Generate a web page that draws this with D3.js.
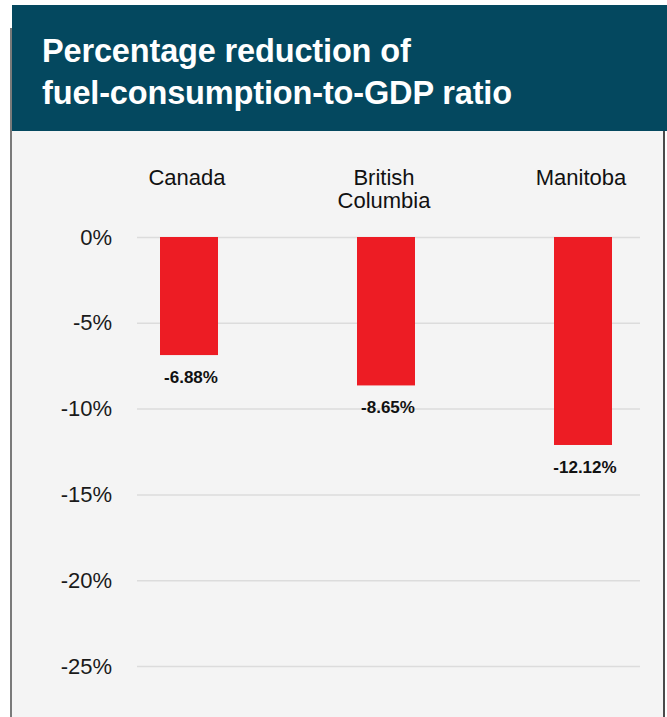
<!DOCTYPE html>
<html>
<head>
<meta charset="utf-8">
<script src="https://cdn.jsdelivr.net/npm/d3@7"></script>
<style>
  body { margin: 0; background: #ffffff; }
  svg { display: block; }
</style>
</head>
<body>
<div id="vis"></div>
<script>
var width = 667
var height = 717

// chart data
var regions = ["Canada", "British Columbia", "Manitoba"]
var regionLines = [["Canada"], ["British", "Columbia"], ["Manitoba"]]
var reductions = [-6.88, -8.65, -12.12]
var valueLabels = ["-6.88%", "-8.65%", "-12.12%"]
var yTicks = [0, -5, -10, -15, -20, -25]

var titleLines = ["Percentage reduction of", "fuel-consumption-to-GDP ratio"]

var svg = d3.select('#vis').append('svg')
  .attr('width', width)
  .attr('height', height)

// panel + header
svg.append('rect')
  .attr('x', 12).attr('y', 130)
  .attr('width', 651).attr('height', height - 130)
  .attr('fill', '#f4f4f4')
svg.append('rect')
  .attr('x', 10).attr('y', 28)
  .attr('width', 2).attr('height', height - 28)
  .attr('fill', '#7a7a7a')
svg.append('rect')
  .attr('x', 663).attr('y', 130)
  .attr('width', 2).attr('height', height - 130)
  .attr('fill', '#4a4a4a')
svg.append('rect')
  .attr('x', 12).attr('y', 5)
  .attr('width', width - 12).attr('height', 126)
  .attr('fill', '#04485f')

svg.selectAll('text.title')
  .data(titleLines)
  .enter()
  .append('text')
  .attr('class', 'title')
  .attr('x', 42)
  .attr('y', function(d, i){ return 62 + i * 42 })
  .attr('fill', '#ffffff')
  .style('font-family', 'Liberation Sans, Arial, sans-serif')
  .style('font-weight', 'bold')
  .style('font-size', '32.5px')
  .style('letter-spacing', '-0.15px')
  .text(function(d){ return d })

// scales
var y = d3.scaleLinear()
  .domain([0, -25])
  .range([237, 666])

var x = d3.scalePoint()
  .domain(regions)
  .range([189, 583])

var barWidth = 58

// gridlines + y labels through an axis
var yAxis = d3.axisLeft(y)
  .tickValues(yTicks)
  .tickSize(-(640 - 137))
  .tickPadding(25)
  .tickFormat(function(d){ return d + '%' })

var gAxis = svg.append('g')
  .attr('transform', 'translate(137,0)')
  .call(yAxis)
gAxis.select('.domain').remove()
gAxis.selectAll('.tick line')
  .attr('stroke', '#dcdcdc')
  .attr('stroke-width', 1.5)
gAxis.selectAll('.tick text')
  .attr('fill', '#1a1a1a')
  .style('font-family', 'Liberation Sans, Arial, sans-serif')
  .style('font-size', '22px')

// bars
svg.selectAll('rect.bar')
  .data(reductions)
  .enter()
  .append('rect')
  .attr('class', 'bar')
  .attr('x', function(d, i){ return x(regions[i]) - barWidth / 2 })
  .attr('y', y(0))
  .attr('width', barWidth)
  .attr('height', function(d){ return y(d) - y(0) })
  .attr('fill', '#ed1c24')

// value labels under bars
svg.selectAll('text.value')
  .data(reductions)
  .enter()
  .append('text')
  .attr('class', 'value')
  .attr('x', function(d, i){ return x(regions[i]) + 2 })
  .attr('y', function(d){ return y(d) + 28 })
  .attr('text-anchor', 'middle')
  .attr('fill', '#111111')
  .style('font-family', 'Liberation Sans, Arial, sans-serif')
  .style('font-weight', 'bold')
  .style('font-size', '17px')
  .text(function(d, i){ return valueLabels[i] })

// category labels on top
var cat = svg.selectAll('text.cat')
  .data(regionLines)
  .enter()
  .append('text')
  .attr('class', 'cat')
  .attr('text-anchor', 'middle')
  .attr('fill', '#111111')
  .style('font-family', 'Liberation Sans, Arial, sans-serif')
  .style('font-size', '22px')
  .attr('transform', function(d, i){ return 'translate(' + (x(regions[i]) - 2) + ',185)' })

cat.selectAll('tspan')
  .data(function(d){ return d })
  .enter()
  .append('tspan')
  .attr('x', 0)
  .attr('dy', function(d, i){ return i == 0 ? 0 : 23 })
  .text(function(d){ return d })
</script>
</body>
</html>
